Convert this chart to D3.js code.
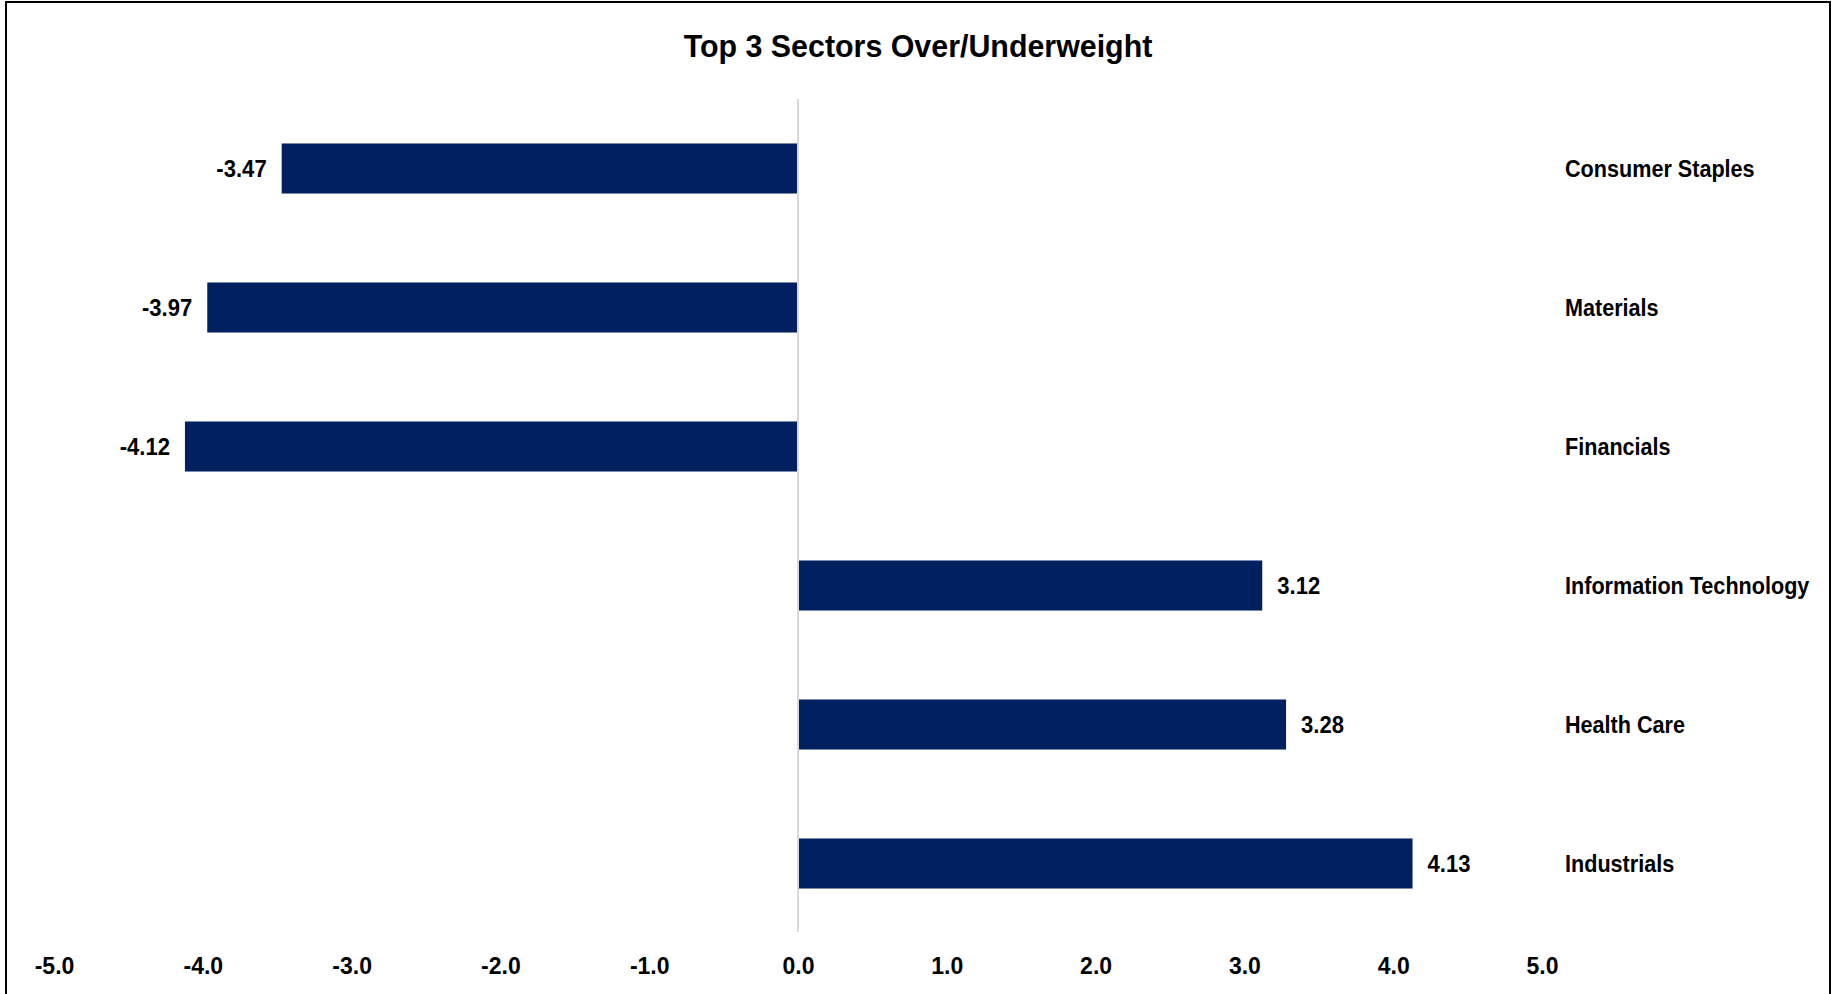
<!DOCTYPE html>
<html>
<head>
<meta charset="utf-8">
<script src="https://cdn.jsdelivr.net/npm/d3@7"></script>
<style>
  html, body { margin: 0; padding: 0; background: #fff; }
  svg text { font-family: "Liberation Sans", Arial, sans-serif; font-weight: bold; fill: #000; }
</style>
</head>
<body>
<svg id="chart" width="1837" height="994"></svg>
<script>
// sectors, top to bottom
var sectors = ["Consumer Staples", "Materials", "Financials", "Information Technology", "Health Care", "Industrials"];
var weights = [-3.47, -3.97, -4.12, 3.12, 3.28, 4.13];
var tickValues = [-5, -4, -3, -2, -1, 0, 1, 2, 3, 4, 5];

var svg = d3.select("#chart");

// outer frame
svg.append("rect")
    .attr("x", 6).attr("y", 2)
    .attr("width", 1824).attr("height", 1000)
    .attr("fill", "none")
    .attr("stroke", "#000")
    .attr("stroke-width", 2);

svg.append("text")
    .attr("transform", "translate(918,46) scale(0.98,1)")
    .attr("text-anchor", "middle")
    .attr("dominant-baseline", "central")
    .style("font-size", "31px")
    .text("Top 3 Sectors Over/Underweight");

var x = d3.scaleLinear().domain([-5, 5]).range([54, 1542]);
var y = d3.scaleBand().domain(sectors).range([99, 933]).paddingInner(0.64).paddingOuter(0.32);

var data = sectors.map(function (s, i) { return { name: s, value: weights[i] }; });

// bars
svg.selectAll("rect.bar")
    .data(data)
    .enter().append("rect")
    .attr("class", "bar")
    .attr("x", function (d) { return x(Math.min(0, d.value)); })
    .attr("y", function (d) { return y(d.name); })
    .attr("width", function (d) { return Math.abs(x(d.value) - x(0)); })
    .attr("height", y.bandwidth())
    .attr("fill", "#002060");

// zero line
svg.append("line")
    .attr("x1", x(0)).attr("x2", x(0))
    .attr("y1", 99).attr("y2", 932)
    .attr("stroke", "#d9d9d9")
    .attr("stroke-width", 2);

// value labels
svg.selectAll("text.val")
    .data(data)
    .enter().append("text")
    .attr("class", "val")
    .attr("transform", function (d) {
        var tx = d.value < 0 ? x(d.value) - 15 : x(d.value) + 15;
        return "translate(" + tx + "," + (y(d.name) + y.bandwidth() / 2) + ") scale(0.92,1)";
    })
    .attr("text-anchor", function (d) { return d.value < 0 ? "end" : "start"; })
    .attr("dominant-baseline", "central")
    .style("font-size", "24px")
    .text(function (d) { return d.value.toFixed(2); });

// category labels on the right
svg.selectAll("text.cat")
    .data(data)
    .enter().append("text")
    .attr("class", "cat")
    .attr("transform", function (d) {
        return "translate(1565," + (y(d.name) + y.bandwidth() / 2) + ") scale(0.9,1)";
    })
    .attr("dominant-baseline", "central")
    .style("font-size", "24px")
    .text(function (d) { return d.name; });

// x axis
var axis = svg.append("g")
    .attr("transform", "translate(0,954)")
    .call(d3.axisBottom(x).tickValues(tickValues).tickSize(0)
        .tickFormat(function (d) { return d.toFixed(1); }));
axis.select(".domain").remove();
axis.selectAll("text")
    .style("font-size", "23px")
    .attr("dy", "0.71em")
    .attr("y", 4);
</script>
</body>
</html>
